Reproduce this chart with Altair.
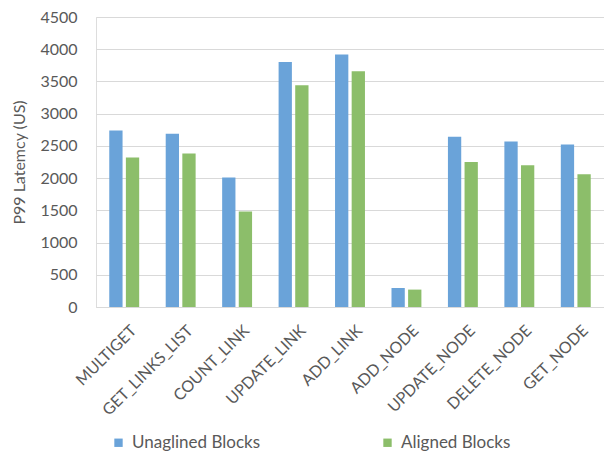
import altair as alt
import pandas as pd

categories = ["MULTIGET", "GET_LINKS_LIST", "COUNT_LINK", "UPDATE_LINK", "ADD_LINK",
              "ADD_NODE", "UPDATE_NODE", "DELETE_NODE", "GET_NODE"]
unaligned = [2740, 2690, 2010, 3800, 3920, 295, 2640, 2570, 2520]
aligned = [2320, 2380, 1480, 3440, 3660, 270, 2250, 2200, 2060]
series = ["Unaglined Blocks", "Aligned Blocks"]
y_ticks = [0, 500, 1000, 1500, 2000, 2500, 3000, 3500, 4000, 4500]

rows = []
for c, u, a in zip(categories, unaligned, aligned):
    rows.append({"op": c, "series": series[0], "value": u})
    rows.append({"op": c, "series": series[1], "value": a})
df = pd.DataFrame(rows)

FONT = "Lato"
GREY = "#595959"

bars = alt.Chart(df).mark_bar(strokeWidth=0).encode(
    x=alt.X("op:N", sort=categories,
            scale=alt.Scale(paddingInner=0.47, paddingOuter=0.235),
            axis=alt.Axis(title=None, labelAngle=-45, labelFontSize=16, labelColor=GREY,
                          labelFont=FONT, ticks=False, domain=True, domainColor="#D9D9D9",
                          labelPadding=15, labelOffset=4, labelOverlap=False)),
    xOffset=alt.XOffset("series:N", sort=series, scale=alt.Scale(paddingInner=0.2)),
    y=alt.Y("value:Q",
            scale=alt.Scale(domain=[0, 4500], nice=False),
            axis=alt.Axis(title="P99 Latemcy (US)", values=y_ticks, format="d", labelFontSize=16,
                          labelColor=GREY, labelFont=FONT, titleFont=FONT, titleFontSize=16,
                          titleFontWeight="normal", titleColor=GREY, ticks=False, domain=False,
                          gridColor="#D9D9D9", gridWidth=1, labelPadding=19, titlePadding=12)),
    color=alt.Color("series:N", sort=series,
                    scale=alt.Scale(domain=series, range=["#6AA3D9", "#8CBE6A"]),
                    legend=alt.Legend(title=None, orient="none", direction="horizontal",
                                      legendX=14, legendY=417, symbolType="square",
                                      symbolSize=70, symbolStrokeWidth=0,
                                      labelFontSize=17, labelColor=GREY, labelFont=FONT,
                                      columnPadding=118, labelOffset=5)),
)

chart = bars.properties(
    width=508, height=290,
    autosize=alt.AutoSizeParams(type="none"),
    padding={"left": 88, "top": 9, "right": 0, "bottom": 146},
).configure_view(stroke=None).configure(background="white")

chart.save("out.html", embed_options={"renderer": "svg", "actions": False})
